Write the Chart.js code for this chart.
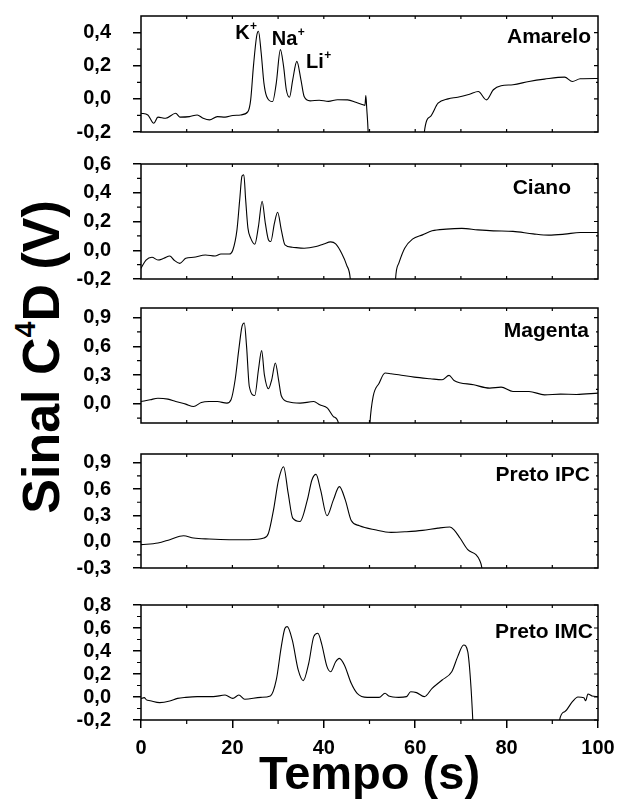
<!DOCTYPE html>
<html>
<head>
<meta charset="utf-8">
<script src="https://cdn.jsdelivr.net/npm/chart.js@4.4.1/dist/chart.umd.min.js"></script>
<style>
html, body { margin: 0; padding: 0; background: #fff; }
#wrap { position: relative; width: 619px; height: 800px; overflow: hidden; }
#wrap canvas { position: absolute; left: 0; }
#ytitle {
    position: absolute; left: 41px; top: 357px;
    transform: translate(-50%, -50%) rotate(-90deg);
    font: bold 52px "Liberation Sans", Arial, sans-serif;
    line-height: 1; white-space: nowrap; color: #000;
}
#ytitle sup { font-size: 0.55em; line-height: 0; vertical-align: 0.85em; }
</style>
</head>
<body>
<div id="wrap">
    <div id="ytitle">Sinal C<sup>4</sup>D (V)</div>
</div>
<script>
// Tempo (s) / sinal (V)
const timeTicks = [0, 20, 40, 60, 80, 100];

const tAmarelo = [0, 1.5, 2.8, 3.7, 5.4, 7.6, 8.5, 10.6, 12.3, 13.6, 15, 16.7, 18.4, 20.1, 21.8, 23.4, 24, 24.6, 25.3, 25.7,
    26.3, 26.9, 27.5, 28.8, 29.6, 30.5, 31.2, 31.8, 32.5, 33.2, 34.1, 35, 35.7, 37, 39, 41, 43, 45.2, 47, 48.6, 49, 49.2, 49.4,
    49.7, 49.8, 55, 61.9, 62, 63.3, 65, 67.2, 69.3, 71.9, 73.8, 75.6, 77.1, 78.8, 81.4, 84.9, 88.3, 92.7, 94.4, 96.1, 100];
const vAmarelo = [-0.087, -0.097, -0.147, -0.11, -0.117, -0.087, -0.11, -0.107, -0.097, -0.117, -0.127, -0.107, -0.11, -0.1,
    -0.097, -0.077, -0.006, 0.196, 0.378, 0.408, 0.277, 0.095, 0.014, -0.016, 0.095, 0.297, 0.196, 0.055, 0.01, 0.115, 0.226,
    0.115, 0.014, -0.012, -0.008, -0.015, -0.005, -0.006, -0.02, -0.036, -0.04, 0.02, -0.06, -0.2, -0.3, null, -0.3, -0.2,
    -0.107, -0.026, 0, 0.01, 0.028, 0.044, -0.006, 0.055, 0.079, 0.085, 0.105, 0.119, 0.131, 0.105, 0.121, 0.123];

const tCiano = [0, 1.1, 2.4, 3.7, 5, 6.3, 7.2, 8.5, 9.8, 11.5, 14.1, 16.2, 17.5, 19.3, 20.1, 21, 21.6, 22.1, 22.5, 22.9, 23.4,
    24, 24.9, 25.7, 26.5, 27.2, 27.9, 28.4, 29.2, 29.9, 30.7, 31.5, 33.1, 35.7, 38.3, 40, 41.5, 42.6, 43.9, 45, 45.8, 46, 50,
    55.6, 55.7, 56.4, 57.7, 59.4, 61.6, 63.7, 66.8, 70.2, 73.7, 77.1, 81.4, 85.8, 89.2, 92.7, 96.1, 100];
const vCiano = [-0.126, -0.068, -0.049, -0.068, -0.056, -0.04, -0.068, -0.091, -0.056, -0.049, -0.033, -0.04, -0.026, -0.026,
    0.002, 0.142, 0.352, 0.516, 0.525, 0.352, 0.154, 0.084, 0.042, 0.166, 0.341, 0.189, 0.072, 0.061, 0.189, 0.264, 0.142,
    0.037, 0.021, 0.014, 0.026, 0.044, 0.058, 0.044, -0.021, -0.103, -0.2, -0.3, null, -0.3, -0.2, -0.091, 0.014, 0.077, 0.107,
    0.135, 0.147, 0.152, 0.142, 0.135, 0.131, 0.114, 0.105, 0.112, 0.124, 0.124];

const tMagenta = [0, 2, 3.7, 5.9, 7.6, 9.8, 11.5, 13.2, 14.9, 16.7, 18.8, 19.7, 20.6, 21.4, 22.1, 22.6, 23.1, 23.7, 24.9, 25.7,
    26.4, 27, 27.9, 28.6, 29.4, 30.1, 30.7, 32.2, 34.8, 37.8, 39.1, 40.8, 42.1, 43.2, 43.4, 47, 50, 50.1, 50.8, 52.1, 53.4, 54.7,
    56.4, 59.8, 63.3, 65.9, 67.4, 68.5, 72.8, 76.3, 78.8, 81.4, 84.9, 88.3, 91.8, 95.3, 100];
const vMagenta = [0.024, 0.042, 0.059, 0.049, 0.024, -0.003, -0.028, 0.014, 0.024, 0.024, 0.007, 0.042, 0.251, 0.565, 0.809,
    0.844, 0.6, 0.181, 0.087, 0.356, 0.555, 0.303, 0.157, 0.251, 0.426, 0.251, 0.084, 0.021, 0.007, 0.024, -0.01, -0.045,
    -0.133, -0.2, -0.3, null, -0.3, -0.2, 0.077, 0.216, 0.321, 0.314, 0.303, 0.279, 0.262, 0.251, 0.297, 0.244, 0.199, 0.164,
    0.174, 0.129, 0.129, 0.094, 0.101, 0.098, 0.112];

const tPretoIPC = [0, 3.7, 6.3, 9.3, 11.5, 14.9, 19.3, 23.6, 26.9, 27.9, 29, 30.1, 31.2, 32.2, 33.2, 34.8, 36.4, 37.4, 38.3,
    39.3, 40.7, 42.1, 43.4, 44.7, 46, 47.8, 51.2, 54.7, 58.1, 61.6, 65, 67.6, 68.5, 69.8, 71.5, 73.3, 74.1, 74.6, 74.8];
const vPretoIPC = [-0.034, -0.015, 0.023, 0.068, 0.042, 0.03, 0.023, 0.023, 0.042, 0.098, 0.363, 0.704, 0.855, 0.553, 0.269,
    0.231, 0.477, 0.704, 0.768, 0.59, 0.295, 0.477, 0.628, 0.477, 0.242, 0.182, 0.136, 0.106, 0.114, 0.129, 0.155, 0.167,
    0.136, 0.042, -0.091, -0.148, -0.212, -0.3, -0.4];

const tPretoIMC = [0, 0.7, 1.2, 2, 4.1, 6.3, 8, 9.8, 12.3, 15.8, 18.4, 20.1, 21.4, 22.7, 26.2, 28.3, 29.6, 30.7, 31.5, 32,
    33.1, 34.4, 35.5, 36.7, 37.8, 38.7, 39.5, 40.7, 41.5, 42.6, 43.4, 44.5, 46, 47.3, 49.5, 52.1, 53.4, 54.2, 56.4, 58.1, 59,
    60.3, 62, 63.7, 65.9, 68, 69.3, 70.6, 71.5, 72.1, 72.6, 72.7, 82, 91.5, 91.6, 92.7, 94.4, 95.6, 96.9, 97.3, 97.8, 98.7, 100];
const vPretoIMC = [-0.015, -0.005, -0.025, -0.032, -0.049, -0.035, -0.012, -0.003, 0.003, 0.003, 0.017, -0.012, 0.017, -0.02,
    -0.003, 0.009, 0.148, 0.438, 0.597, 0.612, 0.496, 0.235, 0.142, 0.293, 0.525, 0.554, 0.467, 0.264, 0.22, 0.307, 0.336,
    0.278, 0.119, 0.032, -0.003, -0.003, 0.032, 0.009, -0.003, 0.003, 0.046, 0.038, 0.003, 0.075, 0.148, 0.22, 0.351, 0.452,
    0.394, 0.148, -0.2, -0.3, null, -0.3, -0.2, -0.128, -0.041, 0, -0.006, -0.032, 0.026, 0.009, 0.003];

const ticksAmarelo = [-0.2, 0, 0.2, 0.4];
const ticksCiano = [-0.2, 0, 0.2, 0.4, 0.6];
const ticksMagenta = [0, 0.3, 0.6, 0.9];
const ticksPretoIPC = [-0.3, 0, 0.3, 0.6, 0.9];
const ticksPretoIMC = [-0.2, 0, 0.2, 0.4, 0.6, 0.8];

// picos identificados no painel Amarelo
const peakNames = ['K', 'Na', 'Li'];
const peakTimes = [20.6, 28.6, 36.1];
const peakLevels = [0.362, 0.327, 0.186];

const panels = [
    { name: 'Amarelo', t: tAmarelo, v: vAmarelo, min: -0.2, max: 0.5, ticks: ticksAmarelo },
    { name: 'Ciano', t: tCiano, v: vCiano, min: -0.2, max: 0.6, ticks: ticksCiano },
    { name: 'Magenta', t: tMagenta, v: vMagenta, min: -0.2, max: 1.0, ticks: ticksMagenta },
    { name: 'Preto IPC', t: tPretoIPC, v: vPretoIPC, min: -0.3, max: 1.0, ticks: ticksPretoIPC },
    { name: 'Preto IMC', t: tPretoIMC, v: vPretoIMC, min: -0.2, max: 0.8, ticks: ticksPretoIMC }
];

// posição de cada painel na página (px)
const boxes = [
    { top: 16, bottom: 132, nameRight: 7, nameTop: 21 },
    { top: 164, bottom: 279, nameRight: 27, nameTop: 24.5 },
    { top: 308, bottom: 423, nameRight: 9, nameTop: 23 },
    { top: 454, bottom: 568, nameRight: 8, nameTop: 21 },
    { top: 605, bottom: 720, nameRight: 5, nameTop: 27.5 }
];
const FONT = '"Liberation Sans", Arial, sans-serif';
const PLOT_LEFT = 141, PLOT_RIGHT = 598;

const framePlugin = {
    id: 'frame',
    afterDatasetsDraw(chart, args, o) {
        const { ctx, chartArea: a, scales: { x, y } } = chart;
        ctx.save();
        ctx.strokeStyle = '#000';
        ctx.fillStyle = '#000';
        ctx.lineWidth = 1.5;
        ctx.strokeRect(a.left, a.top, a.width, a.height);

        // ticks menores do eixo y + ticks internos à direita
        const tk = o.ticks, step = tk[1] - tk[0];
        const minors = [];
        for (let v = tk[0] - step / 2; v < y.max; v += step) {
            if (v > y.min + 1e-6 && v < y.max - 1e-6) minors.push(v);
        }
        ctx.lineWidth = 1.2;
        ctx.beginPath();
        minors.forEach(v => {
            const py = y.getPixelForValue(v);
            ctx.moveTo(a.left - 4, py); ctx.lineTo(a.left, py);
            ctx.moveTo(a.right, py); ctx.lineTo(a.right - 2, py);
        });
        tk.forEach(v => {
            const py = y.getPixelForValue(v);
            ctx.moveTo(a.right, py); ctx.lineTo(a.right - 4, py);
        });
        // ticks do eixo x (a cada 10 s)
        for (let t = 10; t < 100; t += 10) {
            const px = x.getPixelForValue(t);
            ctx.moveTo(px, a.top); ctx.lineTo(px, a.top + 3);
            if (o.last) {
                if (t % 20) { ctx.moveTo(px, a.bottom); ctx.lineTo(px, a.bottom + 4); }
            } else {
                ctx.moveTo(px, a.bottom); ctx.lineTo(px, a.bottom - 3);
            }
        }
        ctx.stroke();

        // nome do painel
        ctx.font = 'bold 21px ' + FONT;
        ctx.textAlign = 'right';
        ctx.textBaseline = 'middle';
        ctx.fillText(o.name, a.right - o.nameRight, a.top + o.nameTop);

        // rótulos dos picos
        if (o.peaks) {
            ctx.textAlign = 'left';
            ctx.textBaseline = 'alphabetic';
            peakNames.forEach((n, k) => {
                const px = x.getPixelForValue(peakTimes[k]);
                const py = y.getPixelForValue(peakLevels[k]);
                ctx.font = 'bold 20px ' + FONT;
                ctx.fillText(n, px, py);
                const w = ctx.measureText(n).width;
                ctx.font = 'bold 12px ' + FONT;
                ctx.fillText('+', px + w + 0.5, py - 9);
            });
        }
        ctx.restore();
    }
};

const wrap = document.getElementById('wrap');
const fmt = v => v.toFixed(1).replace('.', ',');

panels.forEach((p, i) => {
    const box = boxes[i];
    const last = i === panels.length - 1;
    const padTop = 14;
    const padBottom = last ? 800 - box.bottom : 12;
    const canvas = document.createElement('canvas');
    canvas.width = 619;
    canvas.height = box.bottom - box.top + padTop + padBottom;
    canvas.style.top = (box.top - padTop) + 'px';
    wrap.appendChild(canvas);

    new Chart(canvas, {
        type: 'line',
        data: {
            datasets: [{
                data: p.t.map((t, k) => ({ x: t, y: p.v[k] })),
                borderColor: '#000',
                borderWidth: 1.1,
                pointRadius: 0,
                fill: false,
                cubicInterpolationMode: 'monotone',
                spanGaps: false
            }]
        },
        options: {
            responsive: false,
            animation: false,
            devicePixelRatio: 1,
            layout: { padding: { left: 0, right: 619 - PLOT_RIGHT, top: padTop, bottom: 0 } },
            plugins: {
                legend: { display: false },
                tooltip: { enabled: false },
                frame: { ticks: p.ticks, name: p.name, last, peaks: i === 0, nameRight: box.nameRight, nameTop: box.nameTop }
            },
            scales: {
                x: {
                    type: 'linear', min: 0, max: 100,
                    afterBuildTicks: s => { s.ticks = timeTicks.map(value => ({ value })); },
                    afterFit: s => { s.height = padBottom; s.paddingLeft = 0; s.paddingRight = 0; },
                    ticks: { display: last, color: '#000', padding: 8, maxRotation: 0, autoSkip: false,
                        font: { family: FONT, size: 20, weight: 'bold' } },
                    grid: { display: last, drawOnChartArea: false, tickLength: 8, tickColor: '#000', lineWidth: 1.5 },
                    border: { display: false },
                    title: { display: last, text: 'Tempo (s)', color: '#000', padding: 0,
                        font: { family: FONT, size: 47, weight: 'bold', lineHeight: 1 } }
                },
                y: {
                    min: p.min, max: p.max,
                    afterBuildTicks: s => { s.ticks = p.ticks.map(value => ({ value })); },
                    afterFit: s => { s.width = PLOT_LEFT; s.paddingTop = 0; s.paddingBottom = 0; },
                    ticks: { color: '#000', padding: 22, callback: fmt, autoSkip: false,
                        font: { family: FONT, size: 20, weight: 'bold' } },
                    grid: { drawOnChartArea: false, tickLength: 8, tickColor: '#000', lineWidth: 1.5 },
                    border: { display: false }
                }
            }
        },
        plugins: [framePlugin]
    });
});
</script>
</body>
</html>
